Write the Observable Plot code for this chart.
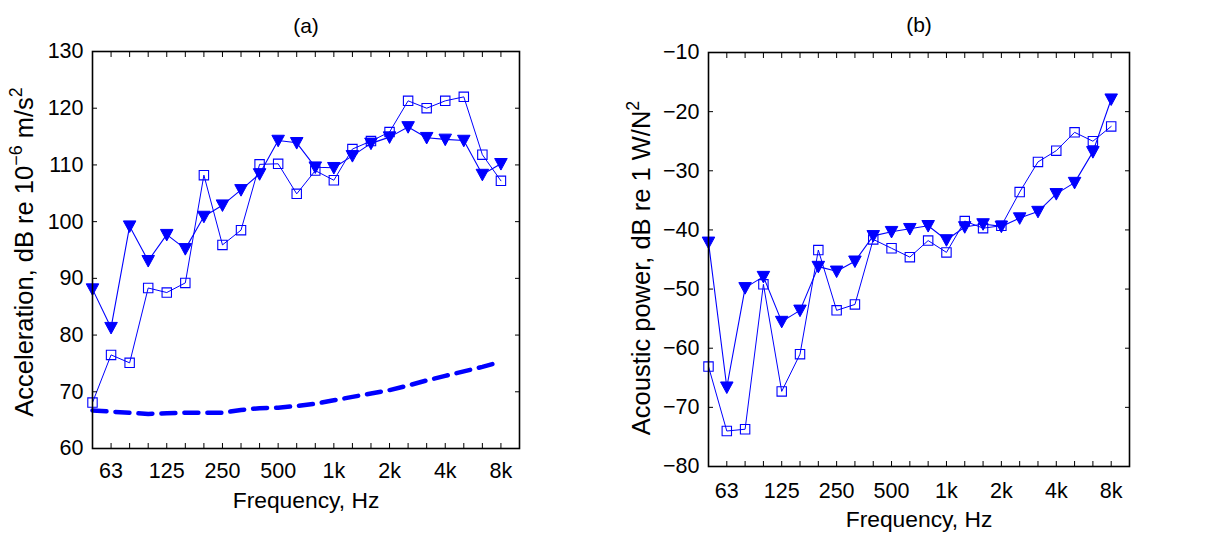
<!DOCTYPE html>
<html>
<head>
<meta charset="utf-8">
<script src="https://cdn.jsdelivr.net/npm/d3@7"></script>
<script src="https://cdn.jsdelivr.net/npm/@observablehq/plot@0.6"></script>
<style>
  html, body { margin: 0; padding: 0; background: #fff; }
  #wrap { position: relative; width: 1220px; height: 537px; overflow: hidden; background: #fff; font-family: "Liberation Sans", Arial, sans-serif; }
  .panel { position: absolute; top: 0; }
  .ylab { position: absolute; transform: translate(-50%, -50%) rotate(-90deg); white-space: nowrap; font-size: 25.5px; line-height: 1; color: #000; }
  .ylab sup { font-size: 0.7em; position: relative; top: -0.6em; vertical-align: baseline; line-height: 0; }
</style>
</head>
<body>
<div id="wrap">
  <div id="pa" class="panel" style="left:0px"></div>
  <div id="pb" class="panel" style="left:610px"></div>
  <div class="ylab" style="left:24.5px; top:252px">Acceleration, dB re 10<sup>−6</sup> m/s<sup>2</sup></div>
  <div class="ylab" style="left:641.8px; top:268px">Acoustic power, dB re 1 W/N<sup>2</sup></div>
</div>
<script>
// ---- data ----
const bands = ["50","63","80","100","125","160","200","250","315","400","500","630","800","1k","1.25k","1.6k","2k","2.5k","3.15k","4k","5k","6.3k","8k"];
const xTickLabels = ["63","125","250","500","1k","2k","4k","8k"];

// (a) acceleration, dB re 1e-6 m/s^2
const accelTriangle = [88.1, 81.3, 99.2, 93.1, 97.7, 95.2, 100.9, 102.9, 105.6, 108.4, 114.3, 113.9, 109.6, 109.5, 111.6, 113.8, 114.9, 116.7, 114.8, 114.5, 114.3, 108.3, 110.2];
const accelSquare   = [68.1, 76.5, 75.1, 88.3, 87.5, 89.2, 108.2, 95.9, 98.5, 110.1, 110.2, 104.9, 109.0, 107.3, 112.8, 114.2, 115.8, 121.3, 120.0, 121.3, 122.0, 111.8, 107.2];
const accelDashed   = [66.7, 66.5, 66.3, 66.1, 66.2, 66.3, 66.3, 66.3, 66.8, 67.1, 67.2, 67.5, 67.9, 68.5, 69.1, 69.7, 70.3, 71.1, 72.0, 72.8, 73.6, 74.4, 75.3];
const accelYTicks = [60, 70, 80, 90, 100, 110, 120, 130];

// (b) acoustic power, dB re 1 W/N^2
const powerTriangle = [-42.1, -66.6, -49.8, -47.9, -55.5, -53.6, -46.2, -47.0, -45.3, -41.0, -40.3, -39.8, -39.3, -41.7, -39.5, -39.0, -39.4, -38.0, -36.9, -33.9, -32.0, -26.8, -17.9];
const powerSquare   = [-63.1, -74.0, -73.7, -49.2, -67.3, -61.0, -43.4, -53.6, -52.6, -41.6, -43.1, -44.6, -41.8, -43.8, -38.5, -39.7, -39.3, -33.6, -28.5, -26.6, -23.5, -25.0, -22.5];
const powerYTicks = [-80, -70, -60, -50, -40, -30, -20, -10];

const titles = ["(a)", "(b)"];
const xLabel = "Frequency, Hz";

// ---- helpers ----
const toRows = (arr) => arr.map((v, i) => ({i, v}));
const bandIdx = bands.map((b, i) => i);
const labelIdx = xTickLabels.map(l => bands.indexOf(l));
const BLUE = "#0000ff";
const FONT = "Liberation Sans, Arial, sans-serif";

const triangleDown = {
  draw(ctx, size) {
    const r = Math.sqrt(size / Math.PI);
    ctx.moveTo(-r * 0.95, -r * 0.8);
    ctx.lineTo(r * 0.95, -r * 0.8);
    ctx.lineTo(0, r * 0.95);
    ctx.closePath();
  }
};

function panel({tri, sq, dashed, yTicks, title, margins, xPad, titleDy, xLabelDy}) {
  const marks = [];
  if (dashed) marks.push(Plot.line(toRows(dashed), {x: "i", y: "v", stroke: BLUE, strokeWidth: 4.5, strokeDasharray: "14,9"}));
  marks.push(
    Plot.line(toRows(sq), {x: "i", y: "v", stroke: BLUE, strokeWidth: 1}),
    Plot.dot(toRows(sq), {x: "i", y: "v", symbol: "square", r: 5.3, stroke: BLUE, strokeWidth: 1.1, fill: "none"}),
    Plot.line(toRows(tri), {x: "i", y: "v", stroke: BLUE, strokeWidth: 1.1}),
    Plot.dot(toRows(tri), {x: "i", y: "v", symbol: triangleDown, r: 6.6, stroke: BLUE, strokeWidth: 1, fill: BLUE}),
    // inward tick marks on all four sides
    Plot.axisX(bandIdx, {anchor: "bottom", tickSize: -5, tickFormat: () => "", label: null, stroke: "black"}),
    Plot.axisX(bandIdx, {anchor: "top", tickSize: -5, tickFormat: () => "", label: null, stroke: "black"}),
    Plot.axisY(yTicks, {anchor: "left", tickSize: -5, tickFormat: () => "", label: null, stroke: "black"}),
    Plot.axisY(yTicks, {anchor: "right", tickSize: -5, tickFormat: () => "", label: null, stroke: "black"}),
    // tick labels
    Plot.axisX(labelIdx, {anchor: "bottom", tickSize: 0, tickPadding: xPad, tickFormat: i => bands[i], label: null, fontSize: 21.5, fill: "black"}),
    Plot.axisY(yTicks, {anchor: "left", tickSize: 0, tickPadding: 9, label: null, fontSize: 21.5, fill: "black"}),
    Plot.frame({stroke: "black", strokeWidth: 1.6}),
    Plot.text([title], {frameAnchor: "top", dy: titleDy, fontSize: 21, fill: "black"}),
    Plot.text([xLabel], {frameAnchor: "bottom", dy: xLabelDy, fontSize: 22.8, fill: "black"})
  );
  return Plot.plot({
    width: 610,
    height: 537,
    ...margins,
    style: {fontFamily: FONT, fontSize: "21.5px", background: "white", color: "black", overflow: "visible"},
    x: {type: "linear", domain: [0, bands.length]},
    y: {type: "linear", domain: d3.extent(yTicks)},
    marks
  });
}

document.getElementById("pa").appendChild(panel({
  tri: accelTriangle, sq: accelSquare, dashed: accelDashed, yTicks: accelYTicks, title: titles[0],
  margins: {marginLeft: 92, marginRight: 91, marginTop: 51, marginBottom: 89},
  xPad: 14, titleDy: -33.5, xLabelDy: 59.8
}));
document.getElementById("pb").appendChild(panel({
  tri: powerTriangle, sq: powerSquare, dashed: null, yTicks: powerYTicks, title: titles[1],
  margins: {marginLeft: 98, marginRight: 91, marginTop: 52, marginBottom: 71},
  xPad: 16, titleDy: -35.5, xLabelDy: 60.8
}));
</script>
</body>
</html>
